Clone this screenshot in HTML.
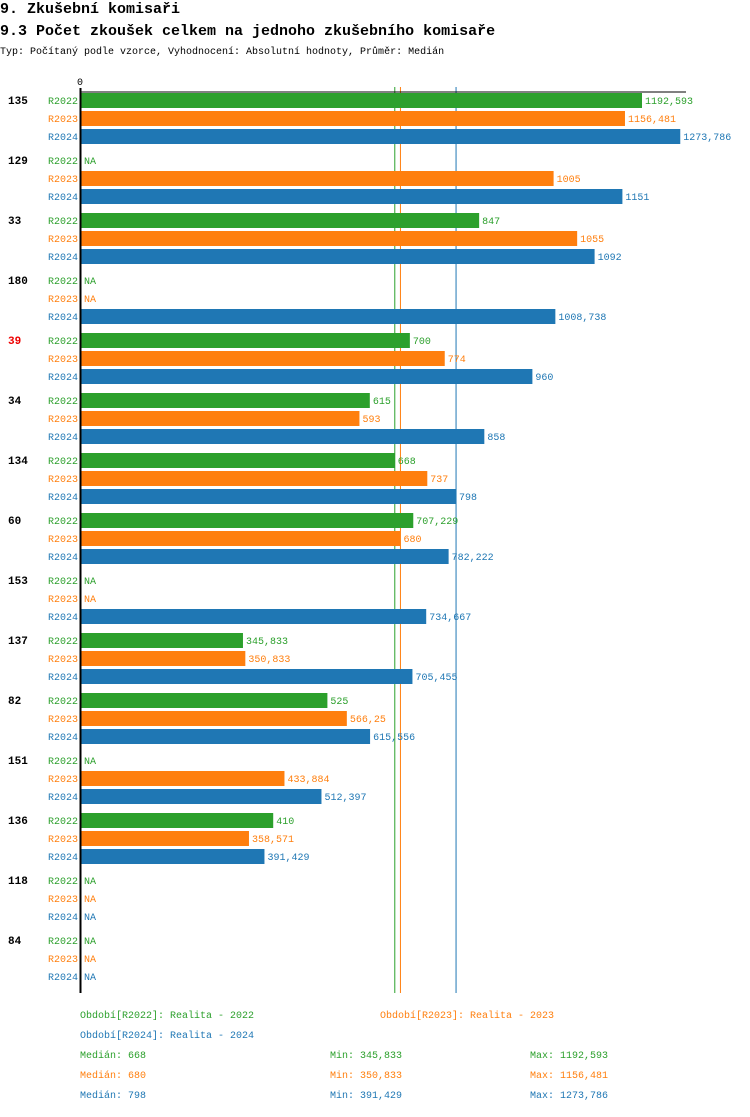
<!DOCTYPE html>
<html><head><meta charset="utf-8"><style>
body{margin:0;background:#fff;font-family:"Liberation Mono",monospace;}
svg text{font-family:"Liberation Mono",monospace;}
</style></head><body>
<svg width="750" height="1112" xmlns="http://www.w3.org/2000/svg">
<text x="0" y="13" font-size="15" font-weight="bold">9. Zkušební komisaři</text>
<text x="0" y="35" font-size="15" font-weight="bold">9.3 Počet zkoušek celkem na jednoho zkušebního komisaře</text>
<text x="0" y="54" font-size="10">Typ: Počítaný podle vzorce, Vyhodnocení: Absolutní hodnoty, Průměr: Medián</text>
<g id="plot"></g>
<g font-size="10">
<text x="80" y="1018" fill="#2ca02c">Období[R2022]: Realita - 2022</text>
<text x="380" y="1018" fill="#ff7f0e">Období[R2023]: Realita - 2023</text>
<text x="80" y="1038" fill="#1f77b4">Období[R2024]: Realita - 2024</text>
<text x="80" y="1058" fill="#2ca02c">Medián: 668</text>
<text x="330" y="1058" fill="#2ca02c">Min: 345,833</text>
<text x="530" y="1058" fill="#2ca02c">Max: 1192,593</text>
<text x="80" y="1078" fill="#ff7f0e">Medián: 680</text>
<text x="330" y="1078" fill="#ff7f0e">Min: 350,833</text>
<text x="530" y="1078" fill="#ff7f0e">Max: 1156,481</text>
<text x="80" y="1098" fill="#1f77b4">Medián: 798</text>
<text x="330" y="1098" fill="#1f77b4">Min: 391,429</text>
<text x="530" y="1098" fill="#1f77b4">Max: 1273,786</text>
</g>
</svg>
<script>
const categories=["135","129","33","180","39","34","134","60","153","137","82","151","136","118","84"];
const highlight=["39"];
const r2022=[1192.593,null,847,null,700,615,668,707.229,null,345.833,525,null,410,null,null];
const r2023=[1156.481,1005,1055,null,774,593,737,680,null,350.833,566.25,433.884,358.571,null,null];
const r2024=[1273.786,1151,1092,1008.738,960,858,798,782.222,734.667,705.455,615.556,512.397,391.429,null,null];
const seriesNames=["R2022","R2023","R2024"];
const medians=[668,680,798];
const colors=["#2ca02c","#ff7f0e","#1f77b4"];
const NS="http://www.w3.org/2000/svg";
const plotG=document.getElementById('plot');
const x0=80,scale=562/1192.593;
const xs=v=>x0+v*scale;
const groupY=i=>93+60*i;
function mk(t,a){const e=document.createElementNS(NS,t);for(const k in a)e.setAttribute(k,a[k]);plotG.appendChild(e);return e;}
function fmt(v){return String(Math.round(v*1000)/1000).replace('.',',');}
const series=[r2022,r2023,r2024];
medians.forEach((m,j)=>{
  const l=mk('line',{x1:xs(m),x2:xs(m),y1:87,y2:993,stroke:colors[j],'stroke-width':1});
  
  
});
categories.forEach((c,i)=>{
  const y=groupY(i);
  const t=mk('text',{x:8,y:y+11,'font-size':11,'font-weight':'bold',fill:highlight.includes(c)?'#e00':'#000'});
  t.textContent=c;
  
  
  series.forEach((s,j)=>{
    const by=y+18*j;
    const l=mk('text',{x:78,y:by+11,'font-size':10,fill:colors[j],'text-anchor':'end'});
    l.textContent=seriesNames[j];
    
    
    const v=s[i];
    if(v==null){
      const n=mk('text',{x:84,y:by+11,'font-size':10,fill:colors[j]});n.textContent='NA';
      
      
    }else{
      const r=mk('rect',{x:x0,y:by,width:xs(v)-x0,height:15,fill:colors[j]});
      
      
      const vt=mk('text',{x:xs(v)+3,y:by+11,'font-size':10,fill:colors[j]});vt.textContent=fmt(v);
      
      
    }
  });
});
const topLine=mk('line',{x1:80,x2:686,y1:92,y2:92,stroke:'#000','stroke-width':1});


const yAxis=mk('line',{x1:80.5,x2:80.5,y1:88,y2:993,stroke:'#000','stroke-width':2});


const zeroTick=mk('text',{x:80,y:85,'font-size':10,'text-anchor':'middle'});zeroTick.textContent='0';


</script>
</body></html>
